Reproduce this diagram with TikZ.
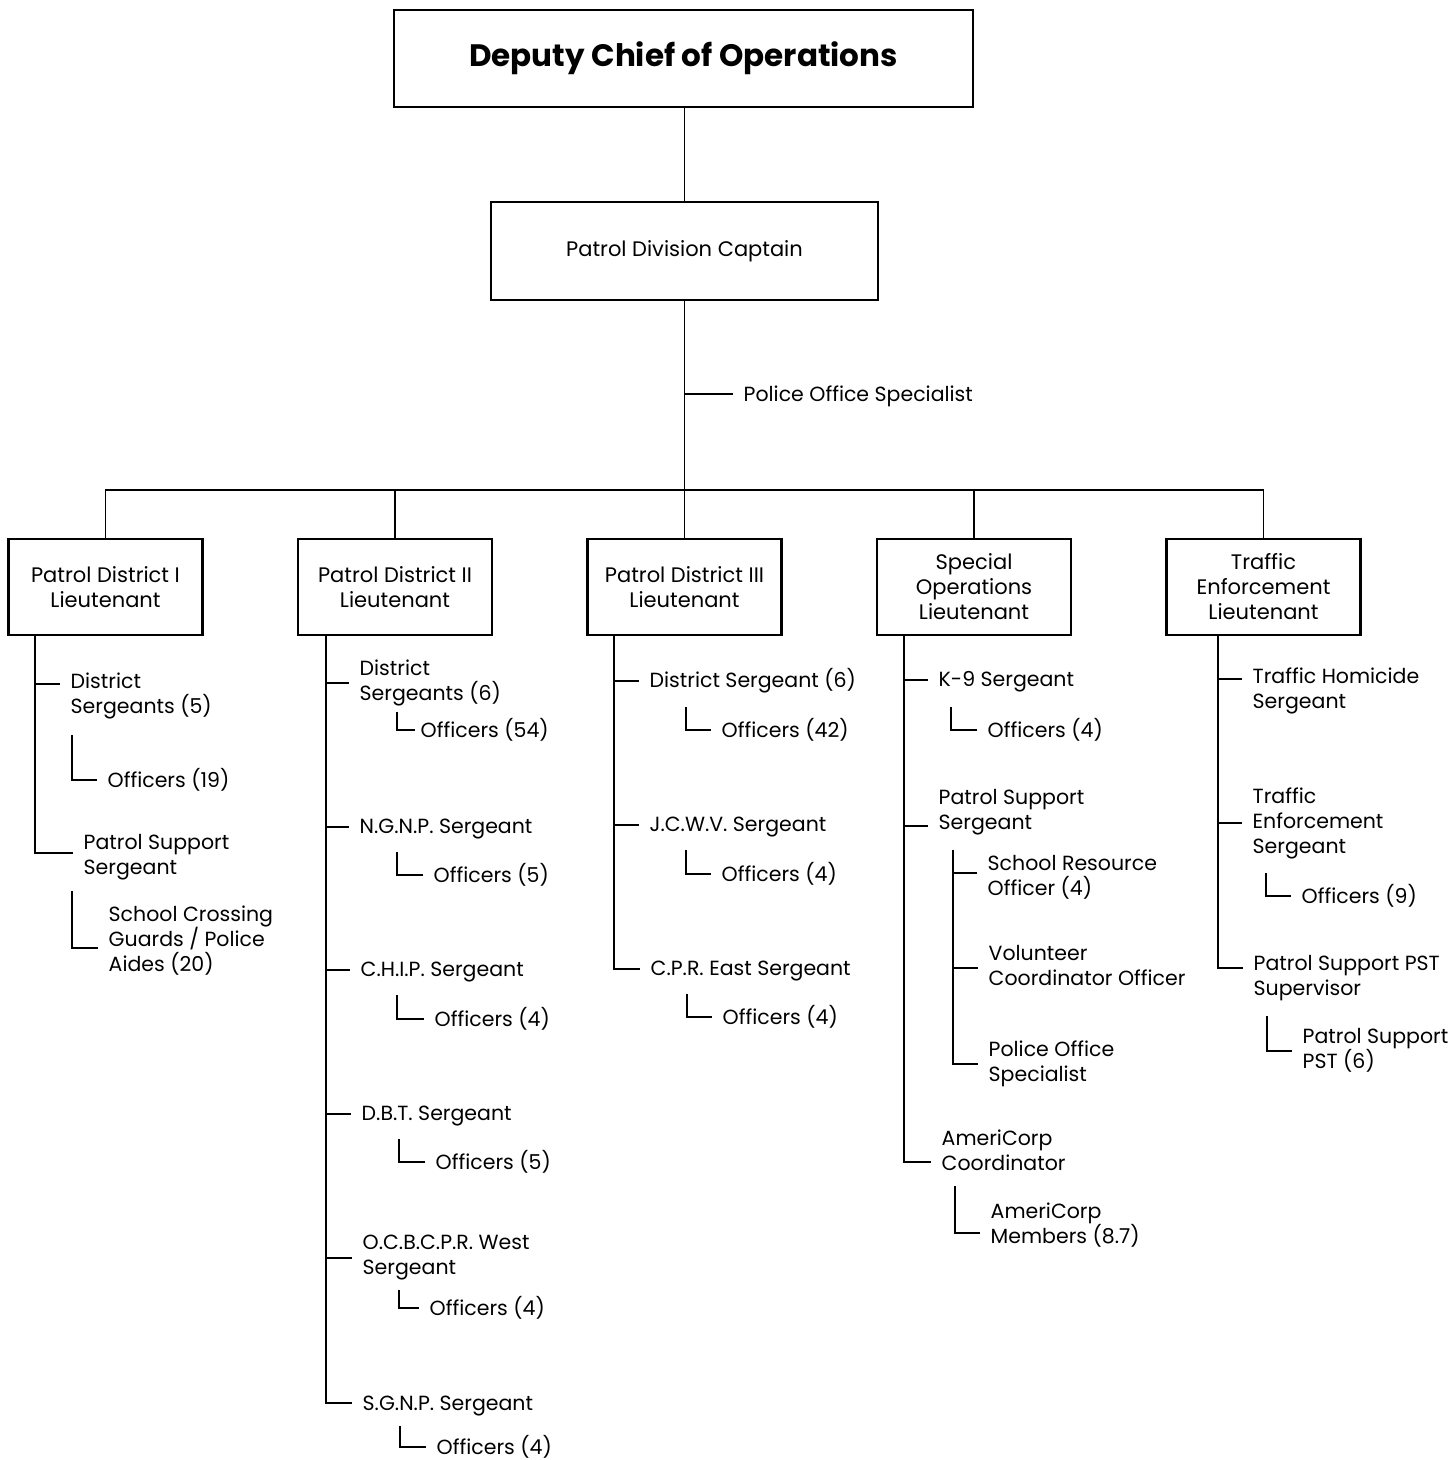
\documentclass[tikz,border=0pt]{standalone}
\usepackage{fontspec}
\setmainfont{Poppins}
\usetikzlibrary{positioning}
\newcommand{\lnstrut}{\rule[-5.5pt]{0pt}{25pt}}

\begin{document}
\begin{tikzpicture}[x=1pt,y=-1pt,line width=1.4pt,node distance=289.5pt,
    title/.style={draw,line width=2.2pt,minimum width=579pt,minimum height=97pt,font=\fontsize{31}{36}\selectfont\bfseries},
    rank/.style={draw,line width=2.2pt,minimum width=194pt,minimum height=96pt,align=center,inner sep=0pt,font=\fontsize{21}{25}\selectfont},
    item/.style={anchor=west,align=left,inner xsep=10pt,inner ysep=0pt,font=\fontsize{20.5}{25}\selectfont,
        execute at begin node=\lnstrut,execute at end node=\lnstrut}]
    \useasboundingbox (0,0) rectangle (1450,1460);
    \node[title] (dco) at (683.5,58.5) {Deputy Chief of Operations};
    \node[rank,minimum width=387pt,minimum height=98pt] (pdc) at (684.5,251) {Patrol Division Captain};
    \node[item] (pos) at (733,394) {Police Office Specialist};

    \node[rank] (b1) at (105.5,587) {Patrol District I\\Lieutenant};
    \node[rank,right of=b1] (b2) {Patrol District II\\Lieutenant};
    \node[rank,right of=b2] (b3) {Patrol District III\\Lieutenant};
    \node[rank,right of=b3] (b4) {Special\\Operations\\Lieutenant};
    \node[rank,right of=b4] (b5) {Traffic\\Enforcement\\Lieutenant};

    \coordinate (bus) at (684,490);
    \draw (pdc.north |- dco.south) -- (pdc.north);
    \draw (pdc.south) -- (pdc.south |- b3.north);
    \draw (pos.west -| pdc.south) -- (pos.west);
    \draw (b1.north) -- (b1.north |- bus) -- (b5.north |- bus) -- (b5.north);
    \foreach \b in {b2,b3,b4} \draw (\b.north) -- (\b.north |- bus);

    \node[item] (ds1) at (60,695.5) {District\\Sergeants (5)};
    \node[item] (of1) at (97,780) {Officers (19)};
    \node[item] (ps1) at (73,857.5) {Patrol Support\\Sergeant};
    \node[item] (sc1) at (98,941) {School Crossing\\Guards / Police\\Aides (20)};
    \coordinate (t1) at (35,635);
    \coordinate (of1t) at (72,735);
    \coordinate (sc1t) at (72,891);
    \draw (t1) |- ([yshift=11.5pt]ds1.west);
    \draw (t1) |- ([yshift=4.5pt]ps1.west);
    \draw (of1t) |- (of1.west);
    \draw (sc1t) |- ([yshift=-7pt]sc1.west);

    \node[item] (ds2) at (349,683) {District\\Sergeants (6)};
    \node[item,inner xsep=5pt] (of2) at (415,730) {Officers (54)};
    \node[item] (ng2) at (349,827) {N.G.N.P. Sergeant};
    \node[item] (of3) at (423,875) {Officers (5)};
    \node[item] (ch2) at (350,970) {C.H.I.P. Sergeant};
    \node[item] (of4) at (424,1019) {Officers (4)};
    \node[item] (db2) at (351,1114) {D.B.T. Sergeant};
    \node[item] (of5) at (425,1162) {Officers (5)};
    \node[item] (oc2) at (352,1258) {O.C.B.C.P.R. West\\Sergeant};
    \node[item] (of6) at (419,1308) {Officers (4)};
    \node[item] (sg2) at (352,1403) {S.G.N.P. Sergeant};
    \node[item] (of7) at (426,1447) {Officers (4)};
    \coordinate (t2) at (326,635);
    \coordinate (of2t) at (397,712);
    \coordinate (of3t) at (397,852);
    \coordinate (of4t) at (397,995);
    \coordinate (of5t) at (399,1139);
    \coordinate (of6t) at (399,1290);
    \coordinate (of7t) at (400,1426);
    \foreach \n in {ds2,ng2,ch2,db2,oc2,sg2} \draw (t2) |- (\n.west);
    \foreach \n in {of2,of3,of4,of5,of6,of7} \draw (\n t) |- (\n.west);

    \node[item] (ds3) at (639,681) {District Sergeant (6)};
    \node[item] (of8) at (711,730) {Officers (42)};
    \node[item] (jc3) at (639,825) {J.C.W.V. Sergeant};
    \node[item] (of9) at (711,874) {Officers (4)};
    \node[item] (cp3) at (640,969) {C.P.R. East Sergeant};
    \node[item] (of10) at (712,1017) {Officers (4)};
    \coordinate (t3) at (614,635);
    \coordinate (of8t) at (686,707);
    \coordinate (of9t) at (686,850);
    \coordinate (of10t) at (687,994);
    \foreach \n in {ds3,jc3,cp3} \draw (t3) |- (\n.west);
    \foreach \n in {of8,of9,of10} \draw (\n t) |- (\n.west);

    \node[item] (k94) at (928,680) {K-9 Sergeant};
    \node[item] (of11) at (977,730) {Officers (4)};
    \node[item] (ps4) at (928,812.5) {Patrol Support\\Sergeant};
    \node[item] (sr4) at (977,878) {School Resource\\Officer (4)};
    \node[item] (vc4) at (978,968) {Volunteer\\Coordinator Officer};
    \node[item] (po4) at (978,1064) {Police Office\\Specialist};
    \node[item] (ac4) at (931,1153) {AmeriCorp\\Coordinator};
    \node[item] (am4) at (980,1225.5) {AmeriCorp\\Members (8.7)};
    \coordinate (t4) at (904,635);
    \coordinate (br4) at (953,850);
    \coordinate (of11t) at (951,707);
    \coordinate (am4t) at (955,1186);
    \draw (t4) |- (k94.west);
    \draw (t4) |- ([yshift=-13.5pt]ps4.west);
    \draw (t4) |- ([yshift=-9pt]ac4.west);
    \draw (of11t) |- (of11.west);
    \draw (br4) |- ([yshift=5pt]sr4.west);
    \draw (br4) |- (vc4.west);
    \draw (br4) |- (po4.west);
    \draw (am4t) |- ([yshift=-7.5pt]am4.west);

    \node[item] (th5) at (1242,691) {Traffic Homicide\\Sergeant};
    \node[item] (te5) at (1242,823) {Traffic\\Enforcement\\Sergeant};
    \node[item] (of12) at (1291,896) {Officers (9)};
    \node[item] (pp5) at (1243,978.5) {Patrol Support PST\\Supervisor};
    \node[item] (pt5) at (1292,1051) {Patrol Support\\PST (6)};
    \coordinate (t5) at (1218,635);
    \coordinate (of12t) at (1266,873);
    \coordinate (pt5t) at (1267,1016);
    \draw (t5) |- ([yshift=12pt]th5.west);
    \draw (t5) |- (te5.west);
    \draw (t5) |- ([yshift=10.5pt]pp5.west);
    \draw (of12t) |- (of12.west);
    \draw (pt5t) |- (pt5.west);
\end{tikzpicture}
\end{document}
